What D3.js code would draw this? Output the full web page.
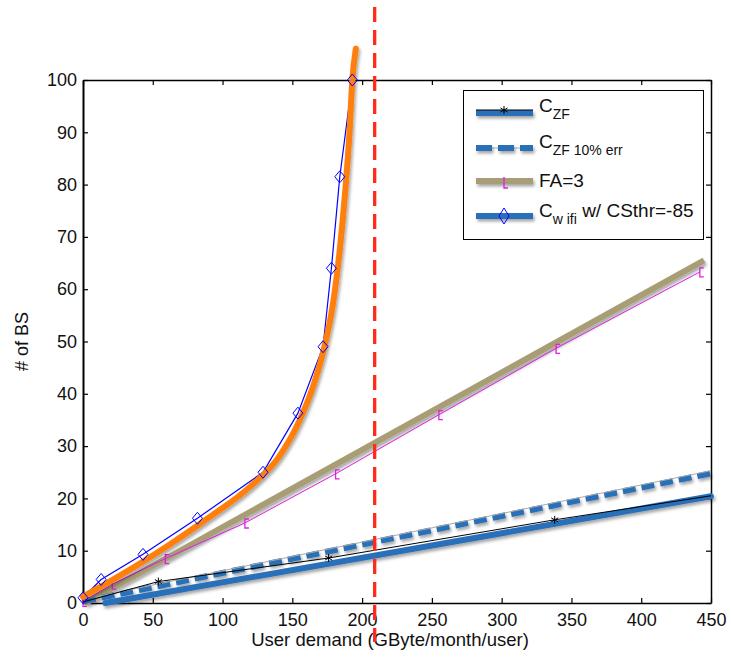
<!DOCTYPE html>
<html>
<head>
<meta charset="utf-8">
<script src="https://d3js.org/d3.v7.min.js"></script>
<style>
  body { margin: 0; background: #fff; }
  svg { font-family: "Liberation Sans", Arial, sans-serif; }
  .axis path, .axis line { stroke: #000; }
  .axis text { font-size: 18px; fill: #111; }
</style>
</head>
<body>
<svg width="731" height="657"></svg>
<script>
var svg = d3.select("svg");

// the data
var xTicks = [0, 50, 100, 150, 200, 250, 300, 350, 400, 450];
var yTicks = [0, 10, 20, 30, 40, 50, 60, 70, 80, 90, 100];

// C_wifi measured points (diamonds)
var wifiX = [0, 13, 43, 82, 129, 154, 172, 178, 184, 193];
var wifiY = [1, 4.5, 9.3, 16.2, 25, 36.3, 49, 64, 81.5, 100];
// fitted curve (orange)
var fitX = [0, 30, 60, 90, 120, 140, 155, 165, 173, 179, 184, 188, 191, 193, 195.5];
var fitY = [1.2, 5.8, 10.8, 16.3, 22.3, 27.8, 34.8, 41.5, 49, 57, 67.5, 79, 90, 100, 106];
// FA=3
var faX = [2, 445];
var faY = [0, 65.5];
var faMarkX = [0, 21, 59, 116, 181, 255, 339, 442];
var faMarkY = [0.3, 3.6, 8.5, 15.3, 24.7, 36, 48.7, 63.3];
// C_ZF
var zfX = [16, 450];
var zfY = [0, 20.4];
var zfStarX = [0, 54, 176, 338, 450];
var zfStarY = [0.2, 4.1, 8.6, 15.9, 20.5];
// C_ZF 10% err
var errX = [0, 450];
var errY = [0.3, 24.8];
var errThinY = [0.7, 25.3];
// demand limit
var limitX = 209;

// scales
var x = d3.scaleLinear().domain([0, 450]).range([83, 711]);
var y = d3.scaleLinear().domain([0, 100]).range([603, 80]);

function pts(xs, ys) { return xs.map(function (d, i) { return [d, ys[i]]; }); }

var line = d3.line().x(function (d) { return x(d[0]); }).y(function (d) { return y(d[1]); });
var smooth = d3.line().curve(d3.curveMonotoneX)
    .x(function (d) { return x(d[0]); }).y(function (d) { return y(d[1]); });

// shadow for the thick lines (user space so flat lines still get it)
var defs = svg.append("defs");
var f = defs.append("filter").attr("id", "shadow").attr("filterUnits", "userSpaceOnUse")
    .attr("x", 0).attr("y", 0).attr("width", 731).attr("height", 657);
f.append("feDropShadow").attr("dx", 1.5).attr("dy", 2.5).attr("stdDeviation", 1.5)
    .attr("flood-color", "#000").attr("flood-opacity", 0.35);

var blue = "#2a70b8", khaki = "#a89d74", orange = "#ff7f0e", magenta = "#e01fe0";

// markers
var diamond = "M0,-6L5,0L0,6L-5,0Z";
var star = "M0,-4V4M-3.5,-2L3.5,2M-3.5,2L3.5,-2";
var bracket = "M4,-4H0V5H4";

//////////// AXES ////////////
var gx = svg.append("g").attr("class", "axis").attr("transform", "translate(0," + y(0) + ")")
    .call(d3.axisBottom(x).tickValues(xTicks).tickSizeInner(-5).tickSizeOuter(0).tickPadding(10));
var gt = svg.append("g").attr("class", "axis").attr("transform", "translate(0," + y(100) + ")")
    .call(d3.axisTop(x).tickValues(xTicks).tickSizeInner(-5).tickSizeOuter(0).tickFormat(""));
var gy = svg.append("g").attr("class", "axis").attr("transform", "translate(" + x(0) + ",0)")
    .call(d3.axisLeft(y).tickValues(yTicks).tickSizeInner(-5).tickSizeOuter(0).tickPadding(6));
var gr = svg.append("g").attr("class", "axis").attr("transform", "translate(" + x(450) + ",0)")
    .call(d3.axisRight(y).tickValues(yTicks).tickSizeInner(-5).tickSizeOuter(0).tickFormat(""));
svg.selectAll(".axis .domain").attr("stroke-width", 1.5);
gy.select(".domain").attr("stroke-width", 2);
svg.selectAll(".axis .tick line").attr("stroke-width", 1.2);

svg.append("text").attr("x", 390).attr("y", 646).attr("text-anchor", "middle")
    .attr("font-size", 18.5).attr("fill", "#111").text("User demand (GByte/month/user)");
svg.append("text").attr("transform", "translate(28," + y(50) + ") rotate(-90)")
    .attr("text-anchor", "middle").attr("font-size", 18).attr("fill", "#111").text("# of BS");

//////////// THICK LINES ////////////
var thick = svg.append("g").attr("filter", "url(#shadow)");
thick.append("path").datum(pts(faX, faY)).attr("d", line)
    .attr("fill", "none").attr("stroke", khaki).attr("stroke-width", 6);
thick.append("path").datum(pts(zfX, zfY)).attr("d", line)
    .attr("fill", "none").attr("stroke", blue).attr("stroke-width", 6).attr("stroke-linecap", "round");
svg.append("path").datum(pts(errX, errThinY)).attr("d", line)
    .attr("fill", "none").attr("stroke", "#aaa").attr("stroke-width", 1);
thick.append("path").datum(pts(errX, errY)).attr("d", line)
    .attr("fill", "none").attr("stroke", blue).attr("stroke-width", 6).attr("stroke-dasharray", "13,6");

//////////// THIN LINES + MARKERS ////////////
svg.append("path").datum(pts(faMarkX, faMarkY)).attr("d", line)
    .attr("fill", "none").attr("stroke", magenta).attr("stroke-width", 1);
svg.selectAll(".fam").data(pts(faMarkX, faMarkY)).enter().append("path")
    .attr("transform", function (d) { return "translate(" + x(d[0]) + "," + y(d[1]) + ")"; })
    .attr("d", bracket).attr("fill", "none").attr("stroke", magenta).attr("stroke-width", 1.3);

svg.append("path").datum(pts(zfStarX, zfStarY)).attr("d", line)
    .attr("fill", "none").attr("stroke", "#000").attr("stroke-width", 1);
svg.selectAll(".star").data(pts(zfStarX, zfStarY).slice(1, -1)).enter().append("path")
    .attr("transform", function (d) { return "translate(" + x(d[0]) + "," + y(d[1]) + ")"; })
    .attr("d", star).attr("fill", "none").attr("stroke", "#000").attr("stroke-width", 1);

svg.append("path").datum(pts(wifiX, wifiY)).attr("d", line)
    .attr("fill", "none").attr("stroke", "#0000ff").attr("stroke-width", 1.2);

svg.append("path").datum(pts(fitX, fitY)).attr("d", smooth).attr("filter", "url(#shadow)")
    .attr("fill", "none").attr("stroke", orange).attr("stroke-width", 6).attr("stroke-linecap", "round");

svg.selectAll(".dia").data(pts(wifiX, wifiY)).enter().append("path")
    .attr("transform", function (d) { return "translate(" + x(d[0]) + "," + y(d[1]) + ")"; })
    .attr("d", diamond).attr("fill", "none").attr("stroke", "#0000ff").attr("stroke-width", 1);

// demand limit
svg.append("line").attr("x1", x(limitX)).attr("x2", x(limitX)).attr("y1", 7).attr("y2", 642)
    .attr("stroke", "#ff2a1a").attr("stroke-width", 3.3).attr("stroke-dasharray", "15,8");

//////////// LEGEND ////////////
var lg = svg.append("g");
lg.append("rect").attr("x", 463.5).attr("y", 90.5).attr("width", 240).attr("height", 149)
    .attr("fill", "#fff").attr("stroke", "#000").attr("stroke-width", 1);

var rows = [
    { ly: 113, ty: 112, main: "C", sub: "ZF", rest: "" },
    { ly: 148, ty: 148, main: "C", sub: "ZF 10% err", rest: "" },
    { ly: 181, ty: 187, main: "FA=3", sub: "", rest: "" },
    { ly: 216, ty: 217, main: "C", sub: "w ifi", rest: " w/ CSthr=-85" }
];
var lx1 = 476, lx2 = 533, lmid = 504;

// row 1: C_ZF
lg.append("line").attr("x1", lx1).attr("x2", lx2).attr("y1", rows[0].ly).attr("y2", rows[0].ly)
    .attr("stroke", blue).attr("stroke-width", 6).attr("filter", "url(#shadow)");
lg.append("line").attr("x1", lx1).attr("x2", lx2).attr("y1", rows[0].ly - 3).attr("y2", rows[0].ly - 3)
    .attr("stroke", "#000").attr("stroke-width", 1);
lg.append("path").attr("transform", "translate(" + lmid + "," + (rows[0].ly - 3) + ")")
    .attr("d", star).attr("fill", "none").attr("stroke", "#000").attr("stroke-width", 1);
// row 2: 10% err
lg.append("line").attr("x1", lx1).attr("x2", lx2).attr("y1", rows[1].ly).attr("y2", rows[1].ly)
    .attr("stroke", "#aaa").attr("stroke-width", 1);
lg.append("line").attr("x1", lx1).attr("x2", lx2).attr("y1", rows[1].ly).attr("y2", rows[1].ly)
    .attr("stroke", blue).attr("stroke-width", 6).attr("stroke-dasharray", "16,6").attr("filter", "url(#shadow)");
// row 3: FA=3
lg.append("line").attr("x1", lx1).attr("x2", lx2).attr("y1", rows[2].ly).attr("y2", rows[2].ly)
    .attr("stroke", khaki).attr("stroke-width", 6).attr("filter", "url(#shadow)");
lg.append("path").attr("transform", "translate(" + lmid + "," + rows[2].ly + ")")
    .attr("d", "M0,-4V7H4").attr("fill", "none").attr("stroke", magenta).attr("stroke-width", 1.3);
// row 4: wifi
lg.append("line").attr("x1", lx1).attr("x2", lx2).attr("y1", rows[3].ly).attr("y2", rows[3].ly)
    .attr("stroke", blue).attr("stroke-width", 6).attr("filter", "url(#shadow)");
lg.append("path").attr("transform", "translate(" + lmid + "," + rows[3].ly + ")")
    .attr("d", "M0,-8L5,0L0,8L-5,0Z").attr("fill", "none").attr("stroke", "#0000ff").attr("stroke-width", 1);

rows.forEach(function (r) {
    var t = lg.append("text").attr("x", 539).attr("y", r.ty).attr("font-size", 19).attr("fill", "#111");
    t.append("tspan").text(r.main);
    if (r.sub) t.append("tspan").attr("font-size", 14).attr("dy", 7).text(r.sub);
    if (r.rest) t.append("tspan").attr("dy", -7).text(r.rest);
});
</script>
</body>
</html>
